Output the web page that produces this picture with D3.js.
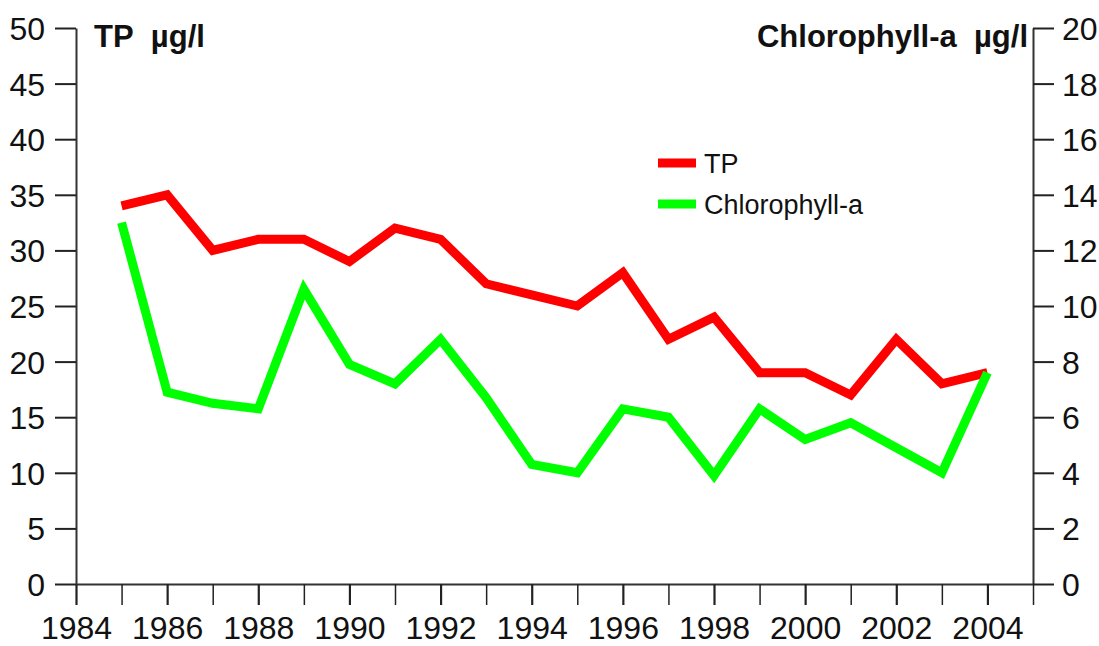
<!DOCTYPE html>
<html><head><meta charset="utf-8">
<script src="https://cdn.jsdelivr.net/npm/d3@7"></script>
<style>
body{margin:0;background:#fff;}
svg text{font-family:"Liberation Sans",Arial,sans-serif;fill:#111;}
</style></head>
<body><svg id="c" width="1099" height="646"></svg>
<script>
const years = [1985,1986,1987,1988,1989,1990,1991,1992,1993,1994,1995,1996,1997,1998,1999,2000,2001,2002,2003,2004];
const tp = [34,35,30,31,31,29,32,31,27,26,25,28,22,24,19,19,17,22,18,19];
const chla = [13.0,6.9,6.5,6.3,10.6,7.9,7.2,8.8,6.7,4.3,4.0,6.3,6.0,3.9,6.3,5.2,5.8,4.9,4.0,7.6];
const xTickYears = d3.range(1984,2006);
const xLabelYears = [1984,1986,1988,1990,1992,1994,1996,1998,2000,2002,2004];
const leftTicks = [0,5,10,15,20,25,30,35,40,45,50];
const rightTicks = [0,2,4,6,8,10,12,14,16,18,20];
const seriesNames = ["TP","Chlorophyll-a"];
const seriesColors = ["#ff0000","#00ff00"];

const svg = d3.select("#c");
const L = 76, R = 1033, T = 28, B = 584;
const x = d3.scaleLinear().domain([1984,2005]).range([L,R]);
const yL = d3.scaleLinear().domain([0,50]).range([B,T]);
const yR = d3.scaleLinear().domain([0,20]).range([B,T]);

// x axis
const xAxis = svg.append("g").attr("transform",`translate(0,${B})`)
  .call(d3.axisBottom(x).tickValues(xTickYears).tickSize(21).tickSizeOuter(0)
    .tickFormat(d => xLabelYears.includes(d) ? d : ""));
xAxis.select(".domain").attr("stroke","#333").attr("stroke-width",2);
xAxis.selectAll(".tick line").attr("stroke","#222").attr("stroke-width",d => d%2===0?2.2:1.5);
xAxis.selectAll(".tick text").attr("font-size",32).attr("dy",0).attr("y",55).attr("fill","#111");

// left axis
const lAxis = svg.append("g").attr("transform",`translate(${L},0)`)
  .call(d3.axisLeft(yL).tickValues(leftTicks).tickSize(21).tickSizeOuter(0));
lAxis.select(".domain").attr("stroke","#333").attr("stroke-width",2);
lAxis.selectAll(".tick line").attr("stroke","#222").attr("stroke-width",2);
lAxis.selectAll(".tick text").attr("font-size",32).attr("x",-31).attr("dy","0.36em").attr("fill","#111");

// right axis
const rAxis = svg.append("g").attr("transform",`translate(${R},0)`)
  .call(d3.axisRight(yR).tickValues(rightTicks).tickSize(21).tickSizeOuter(0));
rAxis.select(".domain").attr("stroke","#333").attr("stroke-width",2);
rAxis.selectAll(".tick line").attr("stroke","#222").attr("stroke-width",2);
rAxis.selectAll(".tick text").attr("font-size",32).attr("x",29).attr("dy","0.36em").attr("fill","#111");

// titles
svg.append("text").attr("x",94).attr("y",47).attr("font-size",31).attr("font-weight","bold").text("TP\u00a0\u00a0µg/l");
svg.append("text").attr("x",1028).attr("y",47).attr("font-size",31).attr("font-weight","bold").attr("text-anchor","end").text("Chlorophyll-a\u00a0\u00a0µg/l");

// lines
const lineL = d3.line().x((d,i)=>x(years[i])).y(d=>yL(d));
const lineR = d3.line().x((d,i)=>x(years[i])).y(d=>yR(d));
svg.append("path").datum(tp).attr("d",lineL).attr("fill","none").attr("stroke",seriesColors[0]).attr("stroke-width",9).attr("stroke-linejoin","miter");
svg.append("path").datum(chla).attr("d",lineR).attr("fill","none").attr("stroke",seriesColors[1]).attr("stroke-width",9).attr("stroke-linejoin","miter");

// legend
const leg = svg.append("g");
seriesNames.forEach((n,i)=>{
  const yy = 163 + i*41;
  leg.append("line").attr("x1",658).attr("x2",696).attr("y1",yy).attr("y2",yy).attr("stroke",seriesColors[i]).attr("stroke-width",9);
  leg.append("text").attr("x",704).attr("y",yy).attr("dy","0.36em").attr("font-size",27).text(n);
});
</script></body></html>
